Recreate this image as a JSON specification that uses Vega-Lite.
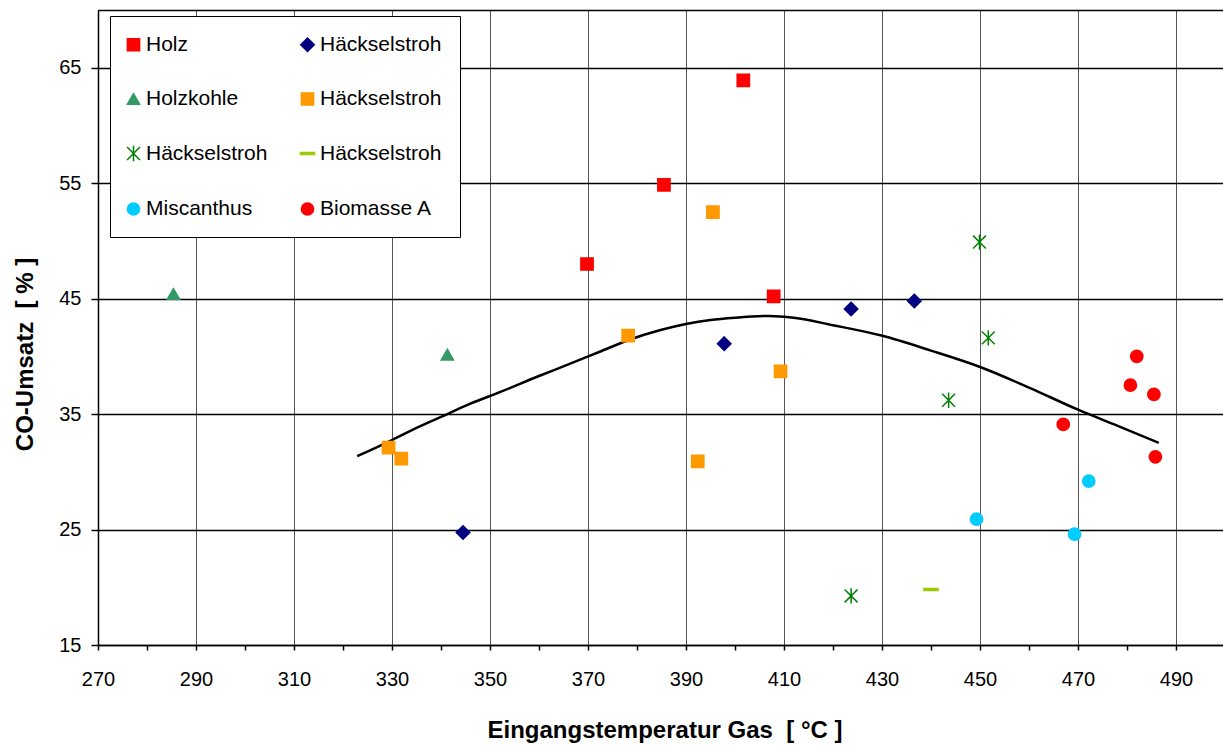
{
  "$schema": "https://vega.github.io/schema/vega-lite/v6.json",
  "width": 1125,
  "height": 635,
  "autosize": {"type": "none"},
  "padding": {"left": 98, "top": 10, "right": 0, "bottom": 100},
  "background": "white",
  "config": {
    "font": "Liberation Sans",
    "view": {"stroke": null}
  },
  "datasets": {
    "pts": [
      {"s": "Holz", "x": 369.8, "y": 48.0},
      {"s": "Holz", "x": 385.5, "y": 54.85},
      {"s": "Holz", "x": 401.7, "y": 63.9},
      {"s": "Holz", "x": 407.9, "y": 45.2},
      {"s": "Häckselstroh 1", "x": 344.5, "y": 24.75},
      {"s": "Häckselstroh 1", "x": 397.8, "y": 41.1},
      {"s": "Häckselstroh 1", "x": 423.7, "y": 44.1},
      {"s": "Häckselstroh 1", "x": 436.6, "y": 44.8},
      {"s": "Holzkohle", "x": 285.4, "y": 45.4},
      {"s": "Holzkohle", "x": 341.3, "y": 40.15},
      {"s": "Häckselstroh 2", "x": 329.3, "y": 32.1},
      {"s": "Häckselstroh 2", "x": 331.9, "y": 31.15},
      {"s": "Häckselstroh 2", "x": 378.2, "y": 41.8},
      {"s": "Häckselstroh 2", "x": 395.5, "y": 52.5},
      {"s": "Häckselstroh 2", "x": 392.4, "y": 30.9},
      {"s": "Häckselstroh 2", "x": 409.3, "y": 38.7},
      {"s": "Häckselstroh 3", "x": 449.9, "y": 49.9},
      {"s": "Häckselstroh 3", "x": 451.7, "y": 41.6},
      {"s": "Häckselstroh 3", "x": 443.6, "y": 36.2},
      {"s": "Häckselstroh 3", "x": 423.7, "y": 19.25},
      {"s": "Häckselstroh 4", "x": 440.0, "y": 19.8},
      {"s": "Miscanthus", "x": 449.3, "y": 25.9},
      {"s": "Miscanthus", "x": 469.3, "y": 24.6},
      {"s": "Miscanthus", "x": 472.2, "y": 29.2},
      {"s": "Biomasse A", "x": 467.0, "y": 34.1},
      {"s": "Biomasse A", "x": 482.0, "y": 40.0},
      {"s": "Biomasse A", "x": 480.7, "y": 37.5},
      {"s": "Biomasse A", "x": 485.5, "y": 36.7},
      {"s": "Biomasse A", "x": 485.8, "y": 31.3}
    ],
    "trend": [
      {"x": 322.9, "y": 31.35},
      {"x": 330, "y": 32.75},
      {"x": 335, "y": 33.8},
      {"x": 341.3, "y": 35.0},
      {"x": 346, "y": 35.9},
      {"x": 352, "y": 36.9},
      {"x": 360, "y": 38.3},
      {"x": 366, "y": 39.3},
      {"x": 372.4, "y": 40.4},
      {"x": 378.2, "y": 41.4},
      {"x": 385, "y": 42.3},
      {"x": 390, "y": 42.8},
      {"x": 395, "y": 43.15},
      {"x": 400, "y": 43.35},
      {"x": 406.9, "y": 43.5},
      {"x": 412, "y": 43.35},
      {"x": 420, "y": 42.7},
      {"x": 429.9, "y": 41.8},
      {"x": 440, "y": 40.5},
      {"x": 449.9, "y": 39.1},
      {"x": 460, "y": 37.3},
      {"x": 469.9, "y": 35.4},
      {"x": 478, "y": 34.0},
      {"x": 486.5, "y": 32.5}
    ]
  },
  "encoding": {
    "x": {
      "field": "x",
      "type": "quantitative",
      "scale": {"domain": [270, 499.6], "nice": false, "zero": false},
      "axis": {
        "values": [270, 280, 290, 300, 310, 320, 330, 340, 350, 360, 370, 380, 390, 400, 410, 420, 430, 440, 450, 460, 470, 480, 490],
        "labelExpr": "datum.value % 20 === 10 ? datum.label : ''",
        "labelOverlap": false,
        "labelFlush": false,
        "grid": true,
        "gridColor": "#555555",
        "gridWidth": 1,
        "gridOpacity": {"condition": {"test": "datum.value % 20 === 10", "value": 1}, "value": 0},
        "tickColor": "black",
        "tickSize": 5,
        "tickWidth": 1.5,
        "domainColor": "black",
        "domainWidth": 1.5,
        "labelFontSize": 20,
        "labelPadding": 19,
        "labelColor": "black",
        "title": "Eingangstemperatur Gas \u00a0[ °C ]",
        "titleFontSize": 24,
        "titleFontWeight": "bold",
        "titleColor": "black",
        "titleX": 566.5,
        "titleY": 92,
        "titleBaseline": "alphabetic",
        "titleAlign": "center"
      }
    },
    "y": {
      "field": "y",
      "type": "quantitative",
      "scale": {"domain": [15, 70], "nice": false, "zero": false},
      "axis": {
        "values": [15, 25, 35, 45, 55, 65, 70],
        "labelExpr": "datum.value === 70 ? '' : datum.label",
        "grid": true,
        "gridColor": "black",
        "gridWidth": 1.5,
        "tickColor": "black",
        "tickSize": 7,
        "tickWidth": 1.5,
        "tickOpacity": {"condition": {"test": "datum.value === 70", "value": 0}, "value": 1},
        "domainColor": "black",
        "domainWidth": 1.5,
        "labelFontSize": 20,
        "labelPadding": 10,
        "labelColor": "black",
        "title": "CO-Umsatz \u00a0[ % ]",
        "titleFontSize": 24,
        "titleFontWeight": "bold",
        "titleColor": "black",
        "titleX": -66,
        "titleY": 344,
        "titleAngle": -90,
        "titleBaseline": "alphabetic",
        "titleAlign": "center"
      }
    }
  },
  "layer": [
    {
      "data": {"name": "trend"},
      "mark": {"type": "line", "color": "black", "strokeWidth": 2.5, "interpolate": "monotone"},
      "encoding": {}
    },
    {
      "data": {"name": "pts"},
      "mark": {"type": "point", "filled": true, "opacity": 1, "size": 150, "strokeWidth": 1.5},
      "encoding": {
        "fill": {
          "field": "s", "type": "nominal",
          "scale": {
            "domain": ["Holz", "Holzkohle", "Häckselstroh 3", "Miscanthus", "Häckselstroh 1", "Häckselstroh 2", "Häckselstroh 4", "Biomasse A"],
            "range": ["#FF0000", "#339966", "#008000", "#00CCFF", "#000080", "#FF9900", "#99CC00", "#FF0000"]
          },
          "legend": {
            "orient": "none", "legendX": 12, "legendY": 6, "columns": 2, "title": null,
            "strokeColor": "black", "fillColor": "white", "padding": 18,
            "labelFontSize": 21, "labelColor": "black", "labelFont": "Liberation Sans",
            "symbolSize": 150, "symbolStrokeWidth": 1.5, "symbolOpacity": 1, "symbolOffset": -5,
            "rowPadding": 32.5, "columnPadding": 29, "labelOffset": 2, "labelLimit": 300,
            "labelExpr": "indexof(datum.label, 'Häckselstroh') === 0 ? 'Häckselstroh' : datum.label"
          }
        },
        "stroke": {
          "field": "s", "type": "nominal",
          "scale": {
            "domain": ["Holz", "Holzkohle", "Häckselstroh 3", "Miscanthus", "Häckselstroh 1", "Häckselstroh 2", "Häckselstroh 4", "Biomasse A"],
            "range": ["#FF0000", "#339966", "#008000", "#00CCFF", "#000080", "#FF9900", "#99CC00", "#FF0000"]
          },
          "legend": {
            "orient": "none", "legendX": 12, "legendY": 6, "columns": 2, "title": null,
            "strokeColor": "black", "fillColor": "white", "padding": 18,
            "labelFontSize": 21, "labelColor": "black", "labelFont": "Liberation Sans",
            "symbolSize": 150, "symbolStrokeWidth": 1.5, "symbolOpacity": 1, "symbolOffset": -5,
            "rowPadding": 32.5, "columnPadding": 29, "labelOffset": 2, "labelLimit": 300,
            "labelExpr": "indexof(datum.label, 'Häckselstroh') === 0 ? 'Häckselstroh' : datum.label"
          }
        },
        "shape": {
          "field": "s", "type": "nominal",
          "scale": {
            "domain": ["Holz", "Holzkohle", "Häckselstroh 3", "Miscanthus", "Häckselstroh 1", "Häckselstroh 2", "Häckselstroh 4", "Biomasse A"],
            "range": ["square", "triangle-up", "M-1.05,-1.05L1.05,1.05M-1.05,1.05L1.05,-1.05M0,-1.25L0,1.25", "circle", "M0,-1.1L1.1,0L0,1.1L-1.1,0Z", "square", "M-1.15,-0.16H1.15V0.16H-1.15Z", "circle"]
          },
          "legend": {
            "orient": "none", "legendX": 12, "legendY": 6, "columns": 2, "title": null,
            "strokeColor": "black", "fillColor": "white", "padding": 18,
            "labelFontSize": 21, "labelColor": "black", "labelFont": "Liberation Sans",
            "symbolSize": 150, "symbolStrokeWidth": 1.5, "symbolOpacity": 1, "symbolOffset": -5,
            "rowPadding": 32.5, "columnPadding": 29, "labelOffset": 2, "labelLimit": 300,
            "labelExpr": "indexof(datum.label, 'Häckselstroh') === 0 ? 'Häckselstroh' : datum.label"
          }
        }
      }
    }
  ]
}
